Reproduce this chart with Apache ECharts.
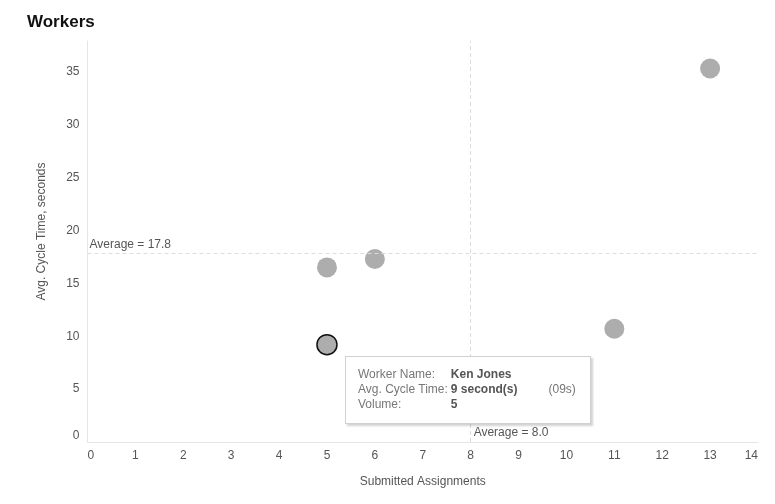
<!DOCTYPE html>
<html>
<head>
<meta charset="utf-8">
<title>Workers</title>
<script src="https://cdn.jsdelivr.net/npm/echarts@6/dist/echarts.min.js"></script>
<style>
  html, body { margin: 0; padding: 0; background: #fff; }
  #chart { width: 775px; height: 504px; }
</style>
</head>
<body>
<div id="chart"></div>
<script>
// worker data (only one name is visible)
var workerNames = ['Worker A', 'Worker B', 'Ken Jones', 'Worker D', 'Worker E'];
var submitted = [5, 6, 5, 11, 13];
var cycleTimes = [16.5, 17.3, 9.2, 10.7, 35.3];
var xTicks = [0, 1, 2, 3, 4, 5, 6, 7, 8, 9, 10, 11, 12, 13, 14];
var yTicks = [0, 5, 10, 15, 20, 25, 30, 35];
var shownIndex = 2; // tooltip shown in the picture

var chartDiv = document.getElementById('chart');
var myChart = echarts.init(chartDiv, null, { renderer: 'canvas' });

var avgX = submitted.reduce(function (a, b) { return a + b; }, 0) / submitted.length;
var avgY = cycleTimes.reduce(function (a, b) { return a + b; }, 0) / cycleTimes.length;

var points = submitted.map(function (x, i) {
    return { value: [x, cycleTimes[i]], name: workerNames[i] };
});

var pad2 = function (n) { return (n < 10 ? '0' : '') + n; };

var tooltipHtml = function (p) {
    var secs = Math.round(p.value[1]);
    var lab = 'style="color:#777;padding:0 3px 0 0;"';
    var val = 'style="color:#555;font-weight:bold;padding:0;"';
    return '<table style="border-collapse:collapse;border-spacing:0;font:12px \'Liberation Sans\',Arial,sans-serif;line-height:15px;">' +
        '<tr><td ' + lab + '>Worker Name:</td><td ' + val + '>' + p.name + '</td><td></td></tr>' +
        '<tr><td ' + lab + '>Avg. Cycle Time:</td><td style="color:#555;font-weight:bold;padding:0 31px 0 0;">' + secs + ' second(s)</td><td style="color:#777;padding:0;">(' + pad2(secs) + 's)</td></tr>' +
        '<tr><td ' + lab + '>Volume:</td><td ' + val + '>' + p.value[0] + '</td><td></td></tr>' +
        '</table>';
};

var option = {
    animation: false,
    textStyle: { fontFamily: 'Liberation Sans, Arial, sans-serif' },
    title: {
        text: 'Workers',
        left: 22,
        top: 9,
        textStyle: { fontSize: 17, fontWeight: 'bold', color: '#111' }
    },
    grid: { left: 87.5, right: 17, top: 41, bottom: 62 },
    tooltip: {
        trigger: 'item',
        alwaysShowContent: true,
        transitionDuration: 0,
        position: [345, 356],
        backgroundColor: '#fff',
        borderColor: '#d0d0d0',
        borderWidth: 1,
        padding: [10, 12, 11, 12],
        extraCssText: 'border-radius:0;box-shadow:2px 2px 2px rgba(0,0,0,0.18);width:220px;',
        formatter: tooltipHtml
    },
    xAxis: {
        type: 'value',
        min: 0,
        max: 14,
        name: 'Submitted Assignments',
        nameLocation: 'middle',
        nameGap: 34,
        nameTextStyle: { color: '#555', fontSize: 12 },
        axisLine: { show: true, lineStyle: { color: '#e6e6e6' } },
        axisTick: { show: false },
        splitLine: { show: false },
        axisLabel: {
            color: '#555',
            fontSize: 12,
            margin: 8,
            customValues: xTicks,
            alignMinLabel: 'left',
            alignMaxLabel: 'right'
        }
    },
    yAxis: {
        type: 'value',
        min: 0,
        max: 37.9,
        name: 'Avg. Cycle Time, seconds',
        nameLocation: 'middle',
        nameGap: 40,
        nameTextStyle: { color: '#555', fontSize: 12, padding: [0, 0, 0, 20] },
        axisLine: { show: true, lineStyle: { color: '#e6e6e6' } },
        axisTick: { show: false },
        splitLine: { show: false },
        axisLabel: {
            color: '#555',
            fontSize: 12,
            margin: 8,
            customValues: yTicks,
            verticalAlignMinLabel: 'bottom'
        }
    },
    series: [{
        type: 'scatter',
        name: 'Workers',
        symbolSize: 20,
        data: points,
        itemStyle: { color: '#adadad', opacity: 1 },
        emphasis: {
            scale: false,
            itemStyle: { color: '#adadad', borderColor: '#111', borderWidth: 1.5, opacity: 1 }
        },
        markLine: {
            silent: true,
            symbol: 'none',
            lineStyle: { color: '#dcdcdc', type: [4, 3], width: 1 },
            data: [
                {
                    yAxis: avgY,
                    label: {
                        show: true,
                        position: 'insideStartTop',
                        distance: [2, 3],
                        formatter: 'Average = ' + avgY.toFixed(1),
                        color: '#555',
                        fontSize: 12
                    }
                },
                { xAxis: avgX, label: { show: false } }
            ]
        },
        markPoint: {
            silent: true,
            symbol: 'circle',
            symbolSize: 0,
            itemStyle: { color: 'rgba(0,0,0,0)' },
            data: [{
                coord: [avgX, 0],
                label: {
                    show: true,
                    position: [3, -15],
                    formatter: 'Average = ' + avgX.toFixed(1),
                    color: '#555',
                    fontSize: 12
                }
            }]
        }
    }]
};

myChart.setOption(option);
myChart.dispatchAction({ type: 'highlight', seriesIndex: 0, dataIndex: shownIndex });
myChart.dispatchAction({ type: 'showTip', seriesIndex: 0, dataIndex: shownIndex });
</script>
</body>
</html>
